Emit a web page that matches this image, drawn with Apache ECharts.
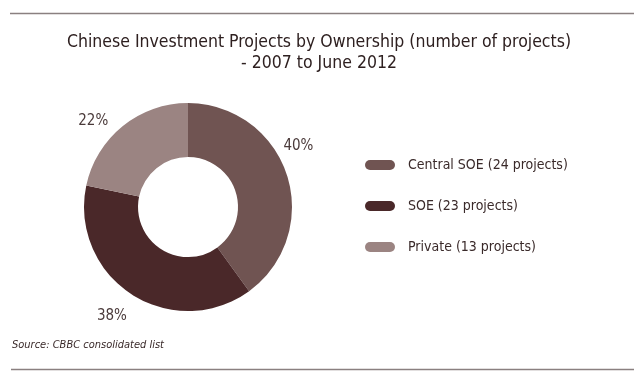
<!DOCTYPE html>
<html><head><meta charset="utf-8">
<script src="https://cdn.jsdelivr.net/npm/echarts@6/dist/echarts.min.js"></script>
<style>html,body{margin:0;padding:0;background:#fff}#c{width:638px;height:378px}</style>
</head><body><div id="c"></div>
<script>
const categories = ['Central SOE', 'SOE', 'Private'];
const projects = [24, 23, 13];
const colors = ['#705452', '#4a2829', '#9b8482'];
const titleText = 'Chinese Investment Projects by Ownership (number of projects)\n- 2007 to June 2012';
const sourceText = 'Source: CBBC consolidated list';

const FONT = "'DejaVu Sans Condensed', Roboto, sans-serif";
const chart = echarts.init(document.getElementById('c'), null, {renderer: 'canvas'});
const labelOffsets = [[-18, -26], [6, 14], [-3, 3]];
const data = categories.map((c, i) => ({
  name: c, value: projects[i], itemStyle: {color: colors[i]},
  label: {offset: labelOffsets[i]}
}));
chart.setOption({
  animation: false,
  title: {
    text: titleText, left: 'center', top: 27,
    textStyle: {fontFamily: FONT, fontSize: 17.5, fontWeight: 'normal', color: '#2e2020', lineHeight: 21}
  },
  legend: {
    orient: 'vertical', left: 360, top: 153, itemGap: 27,
    itemWidth: 30, itemHeight: 10, icon: 'path://M5,0 H25 A5,5 0 0 1 25,10 H5 A5,5 0 0 1 5,0 Z',
    formatter: n => n + ' (' + projects[categories.indexOf(n)] + ' projects)',
    textStyle: {fontFamily: FONT, fontSize: 14, color: '#3a2a2a', padding: [0, 0, 0, 8]}
  },
  series: [{
    type: 'pie', center: [188, 207], radius: [50, 104], startAngle: 90, clockwise: true,
    data: data,
    label: {
      show: true, position: 'outside', formatter: p => Math.round(p.percent) + '%',
      fontFamily: FONT, fontSize: 15, color: '#4a3a3a'
    },
    labelLine: {show: false, length: 10, length2: 0},
    emphasis: {disabled: true}
  }],
  graphic: [
    {type: 'line', shape: {x1: 10, y1: 13.5, x2: 634, y2: 13.5}, style: {stroke: '#8a8080', lineWidth: 1.5}},
    {type: 'line', shape: {x1: 11, y1: 369.5, x2: 634, y2: 369.5}, style: {stroke: '#8a8080', lineWidth: 1.5}},
    {type: 'text', left: 12, top: 340, style: {text: sourceText, font: "italic 11px " + FONT, fill: '#3a2a2a'}}
  ]
});
</script></body></html>
